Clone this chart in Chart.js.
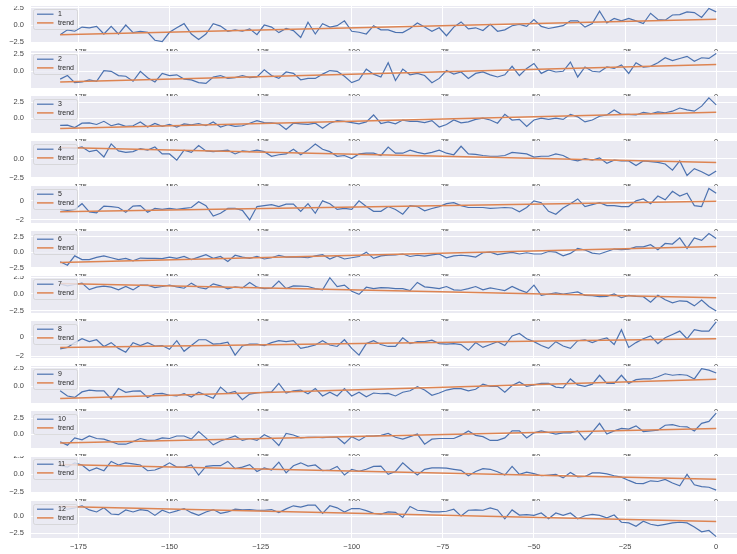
<!DOCTYPE html>
<html>
<head>
<meta charset="utf-8">
<script src="https://cdn.jsdelivr.net/npm/chart.js@4.4.1/dist/chart.umd.min.js"></script>
<style>
    html, body { margin: 0; padding: 0; background: #fff; width: 737px; height: 554px; overflow: hidden; }
    #panels { position: relative; width: 737px; height: 554px; overflow: hidden; }
    #panels canvas { position: absolute; left: 0; }
</style>
</head>
<body>
<div id="panels"></div>
<script>
// sample positions shared by every panel
const xValues = [
    -180, -178, -176, -174, -172, -170, -168, -166, -164, -162,
    -160, -158, -156, -154, -152, -150, -148, -146, -144, -142,
    -140, -138, -136, -134, -132, -130, -128, -126, -124, -122,
    -120, -118, -116, -114, -112, -110, -108, -106, -104, -102,
    -100, -98, -96, -94, -92, -90, -88, -86, -84, -82,
    -80, -78, -76, -74, -72, -70, -68, -66, -64, -62,
    -60, -58, -56, -54, -52, -50, -48, -46, -44, -42,
    -40, -38, -36, -34, -32, -30, -28, -26, -24, -22,
    -20, -18, -16, -14, -12, -10, -8, -6, -4, -2,
    0
];

const panel1 = [
    -1.4, -0.7, -0.9, -0.3, -0.4, -0.2, -1.3, -0.2, -1.3, 0.0,
    -1.1, -0.9, -1.05, -2.2, -2.4, -1.05, -0.4, 0.2, -1.3, -2.1,
    -1.3, 0.2, -0.15, -0.9, -0.7, -0.9, -0.55, -1.4, 0.0, -0.3,
    -1.1, -0.5, -0.8, -1.8, 0.4, -1.3, 0.2, -0.3, -0.1, 0.6,
    -0.9, -1.05, -1.3, -0.1, -0.7, -0.7, -1.05, -1.1, -0.5, 0.3,
    -0.3, -0.9, -0.4, -1.55, -0.3, 0.45, -0.55, -0.4, -0.8, 0.1,
    -0.9, -0.7, -0.1, 0.1, -0.2, 0.8, -0.2, -0.5, -0.3, -0.1,
    0.6, 0.6, -0.3, 0.2, 2.0, 0.3, 0.95, 0.6, 0.95, 0.6,
    0.2, 1.7, 0.8, 0.7, 1.45, 1.5, 1.9, 1.8, 1.1, 2.4,
    1.9
];
const panel2 = [
    -1.1, -0.6, -1.6, -1.5, -1.2, -1.4, 0.1, 0.0, -0.6, -0.7,
    -1.4, 0.0, -0.9, -1.5, -0.3, -0.6, -0.5, -1.1, -1.2, -1.6,
    -1.7, -0.8, -0.6, -1.0, -0.9, -0.6, -0.9, -0.8, 0.2, -0.6,
    -1.0, -0.1, -0.3, -1.2, -1.0, -1.0, -0.4, 0.1, 0.0, -0.7,
    -1.6, -1.2, 0.3, -0.4, -0.8, 1.2, -1.3, 0.3, -0.5, -0.3,
    -0.6, -1.6, -1.0, 0.1, -0.4, -0.1, -1.0, -0.3, -0.1, -0.5,
    -0.8, -0.5, 0.7, -0.6, 0.4, 1.1, -0.3, 0.2, -0.1, 0.0,
    1.3, -0.8, 0.6, 0.0, -0.1, 0.6, 0.4, 0.9, -0.3, 1.2,
    0.6, 0.7, 1.2, 1.9, 1.5, 1.8, 2.1, 1.4, 1.9, 1.8,
    2.5
];
const panel3 = [
    -1.15, -1.1, -1.5, -0.8, -0.75, -1.0, -0.5, -1.2, -0.9, -1.3,
    -1.2, -0.6, -1.4, -0.85, -1.3, -1.0, -1.4, -0.9, -1.05, -0.85,
    -1.2, -0.6, -1.4, -1.05, -1.3, -1.2, -0.8, -0.4, -0.7, -0.75,
    -0.9, -1.8, -0.8, -0.9, -1.0, -0.8, -1.6, -0.8, -0.4, -0.5,
    -0.7, -0.9, -0.6, 0.5, -0.85, -0.6, -0.9, -0.3, -0.5, -0.5,
    -0.7, -0.4, -1.4, -1.0, -0.3, -0.75, -0.6, -0.2, 0.0, -0.3,
    -0.8, 0.6, -0.3, -0.2, -1.3, -0.3, 0.0, -0.2, 0.0, -0.2,
    0.6, 0.2, -0.6, -0.3, 0.3, 0.5, 1.3, 0.6, 0.6, 0.5,
    0.9, 0.7, 1.0, 0.85, 1.1, 1.6, 1.3, 1.1, 1.9, 3.2,
    2.1
];
const panel4 = [
    1.3, 1.4, 1.3, 1.5, 0.9, 1.1, 0.2, 1.9, 1.0, 0.8,
    0.9, 1.3, 1.1, 1.5, 0.6, 0.6, -0.2, 1.1, 0.8, 1.7,
    1.0, 0.9, 1.0, 1.1, 0.6, 1.0, 0.9, 1.1, 0.9, 0.3,
    0.5, 0.6, 1.2, 0.5, 1.1, 1.9, 1.2, 0.9, 0.3, 0.4,
    0.0, 0.6, 0.7, 0.7, 0.4, 1.5, 0.7, 0.7, 1.1, 0.8,
    0.6, 0.8, 1.1, 0.7, 0.5, 1.6, 0.6, 0.55, 0.4, 0.3,
    0.3, 0.4, 0.8, 0.7, 0.6, 0.2, 0.3, 0.3, 0.6, 0.4,
    -0.1, -0.3, 0.0, -0.2, 0.1, -0.6, -0.2, -0.3, -0.3, -0.9,
    -0.3, -0.4, -0.5, -0.7, -1.5, -0.3, -2.2, -1.3, -1.7, -2.2,
    -1.6
];
const panel5 = [
    -0.9, -1.0, -0.9, -0.3, -1.15, -1.25, -0.55, -0.6, -0.7, -1.2,
    -0.55, -0.5, -1.2, -0.8, -0.9, -0.8, -0.9, -0.8, -0.7, -0.1,
    -0.5, -1.6, -1.3, -0.8, -0.8, -1.0, -2.0, -0.6, -0.5, -0.4,
    -0.6, -0.35, -0.35, -1.1, -0.3, -1.3, 0.0, -0.3, -0.9, -0.8,
    -0.9, 0.0, -0.6, -1.1, -1.1, -0.6, -0.9, -1.4, -0.5, -0.6,
    -1.05, -0.8, -0.6, -0.3, -0.2, -0.5, -0.7, -0.7, -0.7, -0.8,
    -0.75, -0.7, -0.75, -1.15, -0.7, 0.0, -0.2, -1.1, -1.4, -0.75,
    -0.3, 0.2, -0.6, -0.4, -0.2, -0.5, -0.5, -0.6, -0.6, 0.0,
    0.2, -0.3, 0.5, 0.1, 1.0, 0.5, 0.8, -0.5, -0.6, 1.3,
    0.8
];
const panel6 = [
    -1.55, -2.1, -0.6, -1.2, -1.2, -0.85, -0.6, -0.9, -1.2, -1.0,
    -1.4, -0.95, -1.0, -1.0, -1.05, -0.8, -1.0, -0.7, -1.2, -0.8,
    -0.4, -1.0, -0.7, -1.5, -0.5, -0.8, -1.0, -0.7, -1.1, -0.9,
    -0.5, -0.8, -0.75, -0.8, -0.9, -0.6, -0.4, -1.1, -0.6, -1.1,
    -0.9, -0.7, 0.0, -1.0, -0.6, -0.5, -0.45, -0.3, -0.7, -0.5,
    -0.65, -0.45, -0.3, -0.9, -0.6, -0.5, -0.6, -0.8, -0.1, 0.0,
    -0.4, -0.2, -0.05, -0.3, -0.1, -0.3, -0.3, 0.1, 0.0, -0.6,
    -0.2, 0.6, 0.35, -0.15, -0.3, 0.1, 0.5, 0.4, 0.5, 0.85,
    0.85, 1.2, 0.4, 1.4, 1.3, 2.3, 0.6, 2.3, 1.9, 3.0,
    2.2
];
const panel7 = [
    1.5, 1.2, 1.4, 1.6, 0.65, 1.0, 1.15, 1.0, 0.6, 1.1,
    0.6, 1.3, 1.3, 0.95, 1.1, 1.3, 1.05, 0.85, 1.6, 0.95,
    0.75, 1.5, 1.2, 0.75, 1.05, 0.9, 1.7, 1.0, 0.8, 0.85,
    1.9, 0.8, 1.2, 1.15, 1.1, 0.8, 0.6, 2.4, 1.1, 1.3,
    0.4, -0.05, 1.0, 0.8, 0.95, 0.9, 0.8, 0.8, 0.5, 1.7,
    1.05, 0.95, 0.8, 1.1, 0.6, 0.55, 0.8, 1.1, 0.6, 0.9,
    0.7, 0.5, 1.1, 0.6, 0.2, 1.3, -0.2, 0.0, 0.15, 0.0,
    0.15, 0.3, -0.2, -0.25, -0.4, -0.35, 0.0, -0.55, -0.2, -0.35,
    -0.4, -1.2, -0.2, -0.85, -1.3, -1.0, -1.1, -1.75, -0.9, -1.85,
    -2.5
];
const panel8 = [
    -1.25, -1.1, -0.6, -0.2, -0.5, -0.3, -1.0, -0.6, -1.2, -1.6,
    -0.6, -0.9, -0.6, -0.95, -0.9, -1.3, -0.4, -1.5, -0.9, -0.3,
    -0.3, -0.75, -0.7, -0.55, -1.9, -0.95, -0.75, -0.75, -0.9, -0.6,
    -0.4, -0.5, -0.4, -1.2, -1.05, -0.85, -0.4, -0.85, -1.0, -0.3,
    -1.2, -1.9, -0.7, -0.4, -0.8, -1.0, -1.0, -0.1, -0.7, -0.5,
    -0.5, -0.35, -0.7, -0.75, -0.7, -0.8, -1.4, -0.6, -1.1, -0.8,
    -0.5, -0.9, 0.1, 0.35, -0.2, -0.5, -0.9, -1.2, -0.5, -0.95,
    -1.2, -0.4, -0.3, -0.6, -0.3, -0.1, -0.8, 0.75, -1.1, -0.6,
    -0.2, 0.1, -0.7, -0.1, 0.25, 0.6, -0.2, 0.75, 0.6, 0.6,
    1.55
];
const panel9 = [
    -0.6, -1.3, -1.5, -0.75, -0.5, -0.6, -0.6, -1.7, -0.3, -0.8,
    -0.65, -0.6, -1.5, -1.0, -0.95, -1.2, -1.3, -1.0, -1.45, -0.8,
    -1.2, -1.6, -0.1, -0.95, -0.7, -1.8, -1.05, -0.9, -0.8, -0.75,
    0.4, -0.9, -0.6, -0.5, -1.0, -0.3, -1.3, -0.8, -1.3, -0.3,
    -1.3, -0.8, -1.4, -0.9, -1.0, -0.95, -1.3, -0.8, -0.6, -0.05,
    -0.5, -1.2, -0.9, -0.5, -0.3, -0.3, -0.6, -0.4, 0.3, 0.0,
    0.0, -0.8, 0.1, 0.6, 0.0, 0.2, 0.4, 0.4, -0.1, -0.2,
    1.0, 0.2, 0.0, 0.3, 1.5, 0.4, 0.4, 1.5, 0.4, 0.9,
    1.0, 1.0, 1.3, 1.7, 1.5, 1.6, 1.5, 1.0, 2.4, 2.2,
    1.8
];
const panel10 = [
    -1.2, -1.75, -0.6, -0.9, -0.3, -0.7, -0.8, -1.2, -1.6, -1.6,
    -1.2, -0.7, -1.0, -1.0, -0.6, -0.7, -0.3, -0.3, -0.8, 0.4,
    -0.6, -1.7, -1.1, -0.7, -0.3, -1.0, -0.7, -1.0, -0.1, -0.65,
    -1.8, 0.1, -0.15, -0.6, -0.5, -0.5, -0.55, -0.5, -0.5, -1.5,
    -0.4, -1.0, -0.3, -0.3, -0.2, 0.1, -0.5, -0.8, -0.4, 0.0,
    -1.6, -0.8, -0.7, -0.7, -0.7, -0.2, 0.5, -0.2, -0.4, -1.0,
    -1.0, -0.6, 0.5, 0.5, -0.6, 0.2, 0.5, 0.25, 0.0, 0.2,
    0.2, 0.5, -0.9, 0.3, 1.7, 0.0, 0.5, 0.9, 0.8, 1.3,
    0.4, 0.5, 0.6, 1.4, 1.5, 1.2, 1.15, 0.5, 1.7, 2.0,
    3.3
];
const panel11 = [
    1.2, 1.0, 1.6, 1.3, 0.5, 0.9, 0.5, 1.8, 1.3, 1.6,
    1.45, 1.3, 0.5, 0.6, 1.0, 1.6, 1.0, 1.0, 1.3, -0.1,
    1.1, 1.2, 1.2, 1.8, 0.8, 1.0, 1.35, 0.4, 0.9, 0.6,
    1.7, 0.2, 1.2, 1.6, 1.15, 1.3, 0.5, 0.6, 1.1, -0.1,
    0.7, 0.4, 0.7, 1.1, 1.15, 0.0, 0.4, 1.6, 0.7, -0.1,
    0.7, 0.9, 0.9, 0.85, 0.7, 0.55, -0.2, 0.4, 0.8, 0.7,
    0.35, -0.1, 1.1, 0.0, 0.3, 0.1, -0.2, -0.1, 0.0, -0.5,
    0.25, -0.35, -0.3, 0.2, 0.2, 0.05, -0.2, -0.4, -0.85, -1.25,
    -1.3, -0.9, -1.0, -0.7, -1.2, -1.6, 0.0, -1.45, -1.7, -1.8,
    -2.2
];
const panel12 = [
    1.3, 1.0, 1.2, 1.5, 0.9, 0.6, 1.2, 0.3, 0.2, 0.9,
    0.6, 0.95, 0.8, 0.1, 0.85, 0.45, 0.75, 1.1, 0.5, 0.1,
    0.6, 0.95, 0.4, 0.6, 1.0, 0.9, 0.95, 0.85, 0.85, 0.95,
    0.5, 1.05, 1.5, 1.3, 1.6, 1.6, 0.4, 1.5, 1.2, 0.6,
    1.1, 1.1, 0.8, 0.4, 0.3, 0.6, 0.55, -0.2, 1.4, 0.85,
    0.75, 0.6, 0.6, 0.7, 1.0, 0.0, 0.85, 0.9, 0.85, 1.2,
    0.9, -0.4, 0.9, 0.15, 0.2, 0.1, 0.45, -0.4, 0.45, 0.1,
    0.45, -0.4, 0.05, 0.25, 0.1, -0.25, 0.15, -0.9, -1.0, -1.5,
    -0.75, -1.2, -1.4, -1.2, -1.0, -0.9, -1.0, -1.6, -2.3, -2.1,
    -3.0
];

const panels = [panel1, panel2, panel3, panel4, panel5, panel6,
                panel7, panel8, panel9, panel10, panel11, panel12];
const seriesNames = ['1', '2', '3', '4', '5', '6', '7', '8', '9', '10', '11', '12'];

// straight trend line: value at the first and at the last sample
const trendX = [-180, 0];
const trendStart = [-1.4, -1.5, -1.65, 1.45, -1.15, -1.65, 1.55, -1.1, -1.65, -1.4, 1.35, 1.4];
const trendEnd = [0.85, 0.95, 0.95, -0.5, -0.05, 0.9, -0.55, -0.2, 0.95, 0.9, -0.7, -0.8];

const xTicks = [-175, -150, -125, -100, -75, -50, -25, 0];
const yTicks = [
    [-2.5, 0, 2.5], [0, 2.5], [0, 2.5], [-2.5, 0], [-2, 0], [-2.5, 0, 2.5],
    [-2.5, 0, 2.5], [-2, 0], [0, 2.5], [0, 2.5], [-2.5, 0, 2.5], [-2.5, 0]
];
const yLimits = [
    [-2.6, 2.75], [-2.35, 2.85], [-2.35, 3.5], [-2.52, 2.28], [-2.32, 1.55], [-2.55, 3.4],
    [-2.8, 2.65], [-2.2, 1.65], [-2.25, 2.75], [-2.2, 3.65], [-2.6, 2.55], [-3.2, 2.2]
];

const BLUE = '#4C72B0';
const ORANGE = '#DD8452';
const FONT = '"Liberation Sans", Arial, sans-serif';

const fmtTick = (v, decimals) => {
    const txt = Math.abs(v).toFixed(decimals);
    return v < 0 ? '\u2212' + txt : txt;
};

const panelBackground = {
    id: 'panelBackground',
    beforeDraw(chart) {
        const { ctx, chartArea: a } = chart;
        ctx.save();
        ctx.fillStyle = '#EAEAF2';
        ctx.fillRect(a.left, a.top, a.right - a.left, a.bottom - a.top);
        ctx.restore();
    }
};

// legend drawn inside the plot, upper left, like matplotlib's
const insideLegend = {
    id: 'insideLegend',
    afterDraw(chart) {
        const { ctx, chartArea: a } = chart;
        const x = a.left + 2.5, y = a.top + 3.5, w = 44, h = 20;
        ctx.save();
        ctx.beginPath();
        ctx.roundRect(x, y, w, h, 2);
        ctx.fillStyle = 'rgba(234,234,242,0.8)';
        ctx.fill();
        ctx.lineWidth = 0.8;
        ctx.strokeStyle = 'rgba(204,204,204,0.8)';
        ctx.stroke();
        ctx.font = '7px ' + FONT;
        ctx.textBaseline = 'middle';
        chart.data.datasets.forEach((ds, i) => {
            const ly = y + 4.7 + i * 8.7;
            ctx.beginPath();
            ctx.moveTo(x + 3.5, ly);
            ctx.lineTo(x + 20, ly);
            ctx.strokeStyle = ds.borderColor;
            ctx.lineWidth = ds.borderWidth;
            ctx.stroke();
            ctx.fillStyle = '#262626';
            ctx.fillText(ds.label, x + 24.5, ly);
        });
        ctx.restore();
    }
};

const wrap = document.getElementById('panels');

panels.forEach((values, i) => {
    const canvas = document.createElement('canvas');
    canvas.width = 749;
    canvas.height = 51;
    canvas.style.top = (6 + 45 * i) + 'px';
    canvas.style.zIndex = String(i + 1);
    wrap.appendChild(canvas);

    const ticksY = yTicks[i];
    const yDecimals = ticksY.some(v => !Number.isInteger(v)) ? 1 : 0;

    new Chart(canvas.getContext('2d'), {
        type: 'line',
        data: {
            datasets: [{
                label: seriesNames[i],
                data: xValues.map((x, k) => ({ x, y: values[k] })),
                borderColor: BLUE,
                borderWidth: 1.2,
                pointRadius: 0,
                tension: 0,
                order: 1
            }, {
                label: 'trend',
                data: trendX.map((x, k) => ({ x, y: k === 0 ? trendStart[i] : trendEnd[i] })),
                borderColor: ORANGE,
                borderWidth: 1.5,
                pointRadius: 0,
                order: 0
            }]
        },
        options: {
            responsive: false,
            animation: false,
            events: [],
            layout: { padding: 0 },
            plugins: { legend: { display: false }, tooltip: { enabled: false } },
            scales: {
                x: {
                    type: 'linear',
                    min: -188,
                    max: 9,
                    afterBuildTicks: (scale) => { scale.ticks = xTicks.map(v => ({ value: v })); },
                    afterFit: (scale) => {
                        scale.height = 14;
                        scale.paddingLeft = 0;
                        scale.paddingRight = 0;
                    },
                    grid: { color: '#ffffff', lineWidth: 1, drawTicks: false },
                    border: { display: false },
                    ticks: {
                        padding: 4,
                        maxRotation: 0,
                        autoSkip: false,
                        color: '#444',
                        font: { family: FONT, size: 7.5 },
                        callback: (v) => fmtTick(v, 0)
                    }
                },
                y: {
                    min: yLimits[i][0],
                    max: yLimits[i][1],
                    afterBuildTicks: (scale) => { scale.ticks = ticksY.map(v => ({ value: v })); },
                    afterFit: (scale) => {
                        scale.width = 31;
                        scale.paddingTop = 0;
                        scale.paddingBottom = 0;
                    },
                    grid: { color: '#ffffff', lineWidth: 1, drawTicks: false },
                    border: { display: false },
                    ticks: {
                        padding: 7,
                        autoSkip: false,
                        color: '#444',
                        font: { family: FONT, size: 7.5 },
                        callback: (v) => fmtTick(v, yDecimals)
                    }
                }
            }
        },
        plugins: [panelBackground, insideLegend]
    });
});
</script>
</body>
</html>
